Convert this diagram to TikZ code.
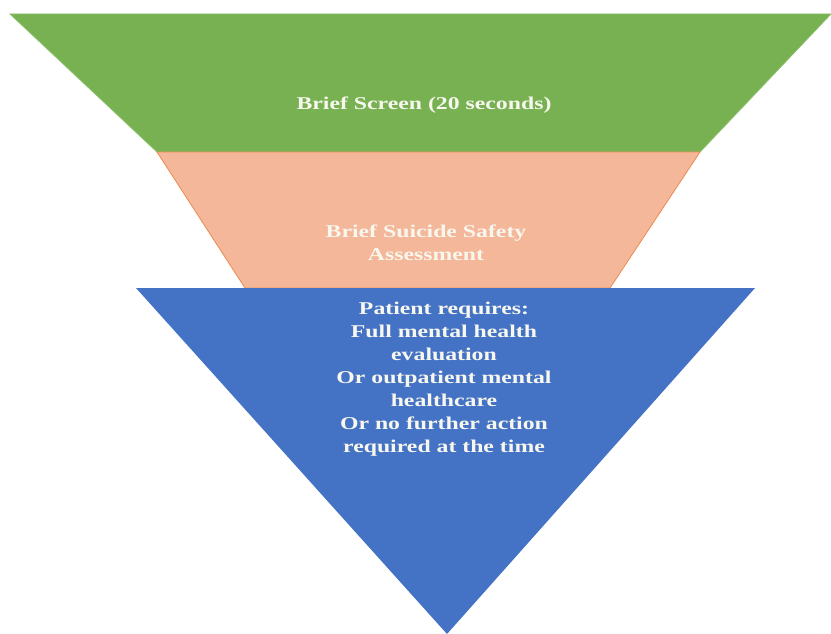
\documentclass[tikz,border=0pt]{standalone}
\usepackage{fontspec}
\setmainfont{Liberation Serif}
\definecolor{grn}{HTML}{77B152}
\definecolor{grnedge}{HTML}{8CC06A}
\definecolor{org}{HTML}{F4B79A}
\definecolor{orgedge}{HTML}{EE8A4E}
\definecolor{blu}{HTML}{4472C4}
\definecolor{txt}{HTML}{F7F7EE}
\tikzset{
  lbl/.style={text=txt, font=\fontsize{18}{23}\selectfont\bfseries, align=center, inner sep=0pt},
}
\newcommand{\wide}[1]{\scalebox{1.32}[1]{#1}}
\begin{document}
\begin{tikzpicture}[x=1pt,y=-1pt]
\useasboundingbox (0,0) rectangle (831,634);
\fill[white] (0,0) rectangle (831,634);
% green trapezoid
\filldraw[fill=grn, draw=grnedge, line width=0.8pt] (10,14) -- (831,14) -- (700,152) -- (157,152) -- cycle;
% orange trapezoid
\filldraw[fill=org, draw=orgedge, line width=0.8pt] (157,152) -- (700,152) -- (610,288) -- (245,288) -- cycle;
% blue triangle
\fill[blu] (136,288) -- (755,288) -- (447,634) -- cycle;
\node[lbl] (screen) at (424,105) {\wide{Brief Screen (20 seconds)}};
\node[lbl] (assess) at (426,242.5) {\wide{Brief Suicide Safety}\\\wide{Assessment}};
\node[lbl] (patient) at (444,379) {\wide{Patient requires:}\\\wide{Full mental health}\\\wide{evaluation}\\\wide{Or outpatient mental}\\\wide{healthcare}\\\wide{Or no further action}\\\wide{required at the time}};
\end{tikzpicture}
\end{document}
